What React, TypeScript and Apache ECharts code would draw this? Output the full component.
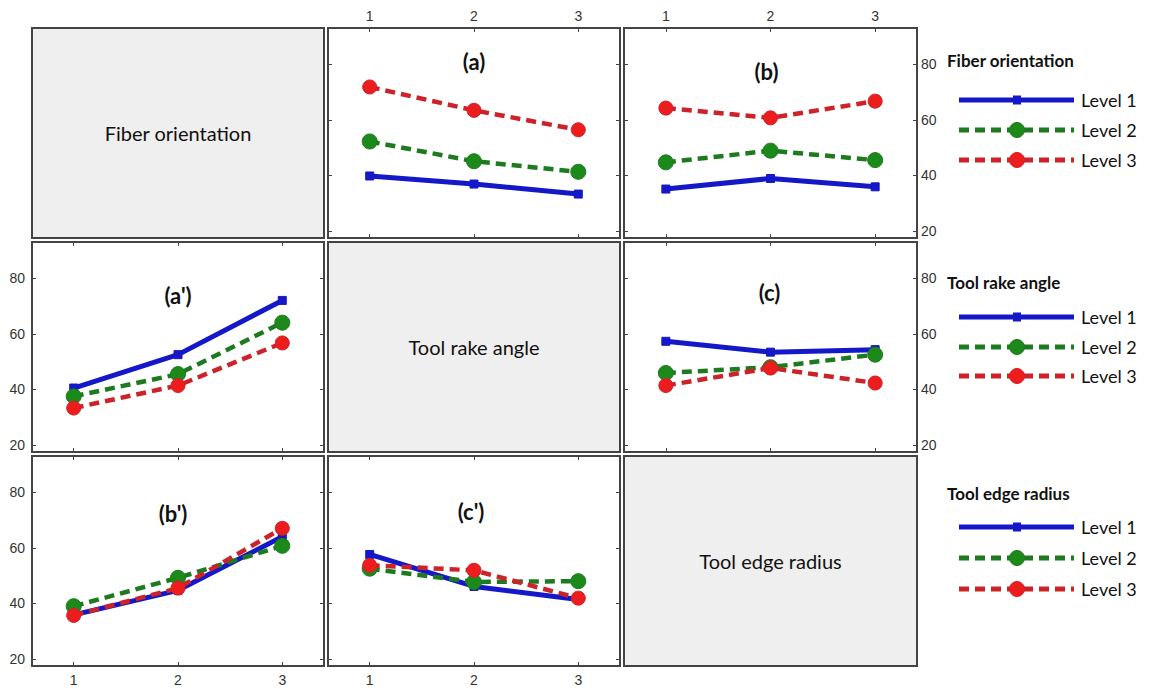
import React, { useEffect, useRef } from "react";
import * as echarts from "echarts";

// ---- data ----
const xLevels = [1, 2, 3];
const xTickValues = [1, 2, 3];
const yTickValues = [20, 40, 60, 80];
const levelNames = ["Level 1", "Level 2", "Level 3"];
const factorNames = ["Fiber orientation", "Tool rake angle", "Tool edge radius"];

// (a)
const aL1 = [39.8, 36.9, 33.3];
const aL2 = [52.2, 45.1, 41.3];
const aL3 = [71.8, 63.4, 56.4];
// (b)
const bL1 = [35.1, 38.9, 35.9];
const bL2 = [44.7, 48.9, 45.5];
const bL3 = [64.2, 60.7, 66.7];
// (a')
const a2L1 = [40.5, 52.5, 72.0];
const a2L2 = [37.5, 45.5, 64.0];
const a2L3 = [33.3, 41.4, 56.7];
// (c)
const cL1 = [57.3, 53.4, 54.3];
const cL2 = [45.9, 48.0, 52.5];
const cL3 = [41.4, 47.7, 42.3];
// (b')
const b2L1 = [35.9, 44.7, 64.0];
const b2L2 = [39.0, 49.2, 60.7];
const b2L3 = [35.7, 45.5, 67.0];
// (c')
const c2L1 = [57.6, 46.1, 41.4];
const c2L2 = [52.5, 47.7, 48.0];
const c2L3 = [53.7, 51.9, 41.9];

// ---- layout ----
const colX = [32, 328, 624];
const colW = [292, 292, 293];
const rowY = [28, 242, 456];
const rowH = 210;
const X_MIN = 0.6, X_MAX = 3.4, Y_MIN = 17.5, Y_MAX = 93;

const panels = [
  { r: 0, c: 1, title: "(a)", dx: 0, dy: 33, data: [aL1, aL2, aL3] },
  { r: 0, c: 2, title: "(b)", dx: -4, dy: 43, data: [bL1, bL2, bL3] },
  { r: 1, c: 0, title: "(a')", dx: 0, dy: 53, data: [a2L1, a2L2, a2L3] },
  { r: 1, c: 2, title: "(c)", dx: -1, dy: 50, data: [cL1, cL2, cL3] },
  { r: 2, c: 0, title: "(b')", dx: -5, dy: 57, data: [b2L1, b2L2, b2L3] },
  { r: 2, c: 1, title: "(c')", dx: -3, dy: 55, data: [c2L1, c2L2, c2L3] },
];

const lvlStyles = [
  { mColor: "#1418c8", lColor: "#1418c8", dash: null as number[] | null, width: 5, symbol: "rect", size: 8 },
  { mColor: "#1b8a1b", lColor: "#1e7a1e", dash: [10, 6], width: 4.5, symbol: "circle", size: 15 },
  { mColor: "#ee1d1d", lColor: "#cc2229", dash: [10, 6], width: 4.5, symbol: "circle", size: 14 },
];

const legendPos = [
  { title: 60, items: [100, 130, 160] },
  { title: 282, items: [317, 347, 376] },
  { title: 493, items: [527, 558, 589] },
];

const FONT = "Lato, 'Open Sans', sans-serif";
const NUMFONT = "'Liberation Sans Narrow', 'Liberation Sans', Arial, sans-serif";

export default function App() {
  const ref = useRef<HTMLDivElement>(null);
  useEffect(() => {
    if (!ref.current) return;
    const chart = echarts.init(ref.current, undefined, { renderer: "svg" });

    const grids: any[] = [];
    const xAxes: any[] = [];
    const yAxes: any[] = [];
    const series: any[] = [];
    const graphics: any[] = [];

    const tickStyle = { show: true, inside: true, length: 4, lineStyle: { color: "#444", width: 1 } };
    const numRich = { n: { color: "#333333", fontSize: 14, fontFamily: NUMFONT } };

    panels.forEach((p, i) => {
      grids.push({
        left: colX[p.c], top: rowY[p.r], width: colW[p.c], height: rowH,
        show: true, borderColor: "#444", borderWidth: 2, backgroundColor: "#fff",
        containLabel: false,
      });
      const showTop = p.r === 0;
      const showBottom = p.r === 2;
      const showLeft = p.c === 0;
      const showRight = p.c === 2;
      const mkX = (pos: string, show: boolean) => ({
        type: "value", gridIndex: i, position: pos, min: X_MIN, max: X_MAX,
        axisLine: { show: false }, splitLine: { show: false },
        axisTick: { ...tickStyle, customValues: xTickValues },
        axisLabel: {
          show: show, color: "#333333", fontSize: 14, fontFamily: NUMFONT,
          margin: pos === "top" ? 5 : 7, customValues: xTickValues,
          formatter: (v: number) => "{n|" + Math.round(v) + "}", rich: numRich,
        },
      });
      const mkY = (pos: string, show: boolean) => ({
        type: "value", gridIndex: i, position: pos, min: Y_MIN, max: Y_MAX,
        axisLine: { show: false }, splitLine: { show: false },
        axisTick: { ...tickStyle, customValues: yTickValues },
        axisLabel: {
          show: show, color: "#333333", fontSize: 14, fontFamily: NUMFONT,
          margin: pos === "left" ? 7 : 4, customValues: yTickValues,
          formatter: (v: number) => "{n|" + Math.round(v) + "}", rich: numRich,
        },
      });
      xAxes.push(mkX("bottom", showBottom));
      xAxes.push(mkX("top", showTop));
      yAxes.push(mkY("left", showLeft));
      yAxes.push(mkY("right", showRight));

      p.data.forEach((vals, k) => {
        const s = lvlStyles[k];
        series.push({
          type: "line", name: levelNames[k], xAxisIndex: 2 * i, yAxisIndex: 2 * i,
          data: vals.map((v, j) => [xLevels[j], v]),
          symbol: s.symbol, symbolSize: s.size, showSymbol: true,
          itemStyle: { color: s.mColor, borderColor: s.lColor, borderWidth: 1 },
          lineStyle: { color: s.lColor, width: s.width, type: s.dash ? s.dash : "solid" },
          z: 2 + k, silent: true,
        });
      });

      graphics.push({
        type: "text", z: 100,
        x: colX[p.c] + colW[p.c] / 2 + p.dx, y: rowY[p.r] + p.dy,
        style: { text: p.title, fontSize: 22, fontWeight: "bold", fontFamily: FONT, fill: "#111", textAlign: "center", textVerticalAlign: "middle" },
      });
    });

    // diagonal panels
    factorNames.forEach((name, d) => {
      graphics.push({
        type: "rect", z: 1,
        shape: { x: colX[d], y: rowY[d], width: colW[d], height: rowH },
        style: { fill: "#efefef", stroke: "#444", lineWidth: 2 },
      });
      graphics.push({
        type: "text", z: 2,
        x: colX[d] + colW[d] / 2, y: rowY[d] + 105,
        style: { text: name, fontSize: 20, fontFamily: FONT, fill: "#111", textAlign: "center", textVerticalAlign: "middle" },
      });
    });

    // legends
    legendPos.forEach((lp, f) => {
      graphics.push({
        type: "text", z: 10, x: 947, y: lp.title,
        style: { text: factorNames[f], fontSize: 17, fontWeight: "bold", fontFamily: FONT, fill: "#111", textAlign: "left", textVerticalAlign: "middle" },
      });
      lp.items.forEach((yy, k) => {
        const s = lvlStyles[k];
        graphics.push({
          type: "line", z: 10,
          shape: { x1: 959, y1: yy, x2: 1074, y2: yy },
          style: { stroke: s.lColor, lineWidth: 5, lineDash: s.dash ? s.dash : null },
        });
        if (k === 0) {
          graphics.push({ type: "rect", z: 11, shape: { x: 1013, y: yy - 4.5, width: 8, height: 9 }, style: { fill: s.mColor } });
        } else {
          graphics.push({ type: "circle", z: 11, shape: { cx: 1017, cy: yy, r: 7.5 }, style: { fill: s.mColor, stroke: s.lColor, lineWidth: 1 } });
        }
        graphics.push({
          type: "text", z: 10, x: 1081, y: yy,
          style: { text: levelNames[k], fontSize: 18, fontFamily: FONT, fill: "#111", textAlign: "left", textVerticalAlign: "middle" },
        });
      });
    });

    chart.setOption({
      animation: false,
      backgroundColor: "#fff",
      grid: grids,
      xAxis: xAxes,
      yAxis: yAxes,
      series,
      graphic: graphics,
    });
    return () => chart.dispose();
  }, []);
  return <div ref={ref} style={{ position: "fixed", left: 0, top: 0, width: 1153, height: 689 }} />;
}
